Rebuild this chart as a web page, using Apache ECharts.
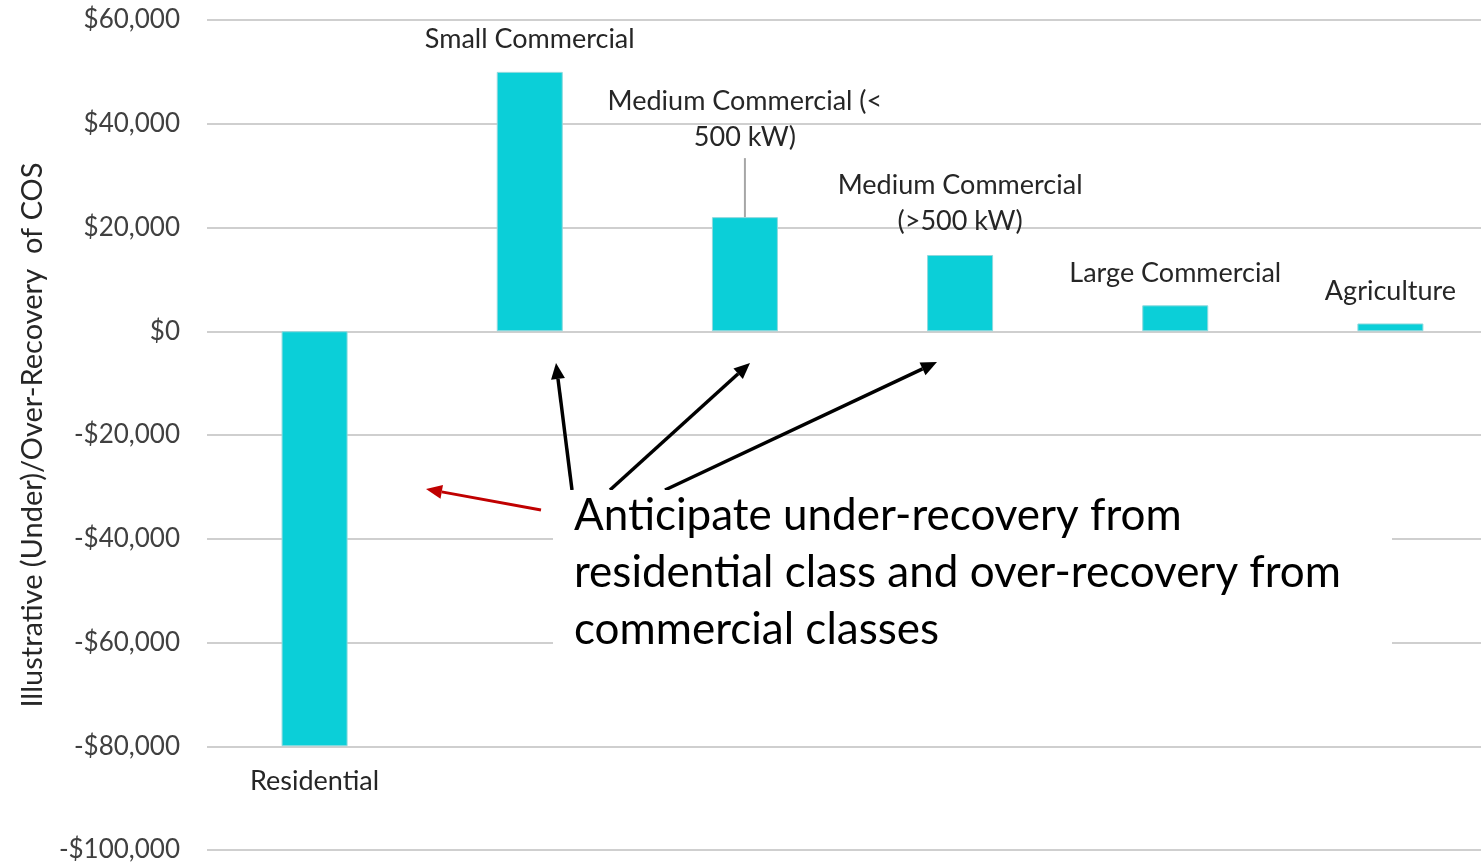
<!DOCTYPE html>
<html>
<head>
<meta charset="utf-8">
<title>Illustrative (Under)/Over-Recovery of COS</title>
<script src="https://cdn.jsdelivr.net/npm/echarts@6/dist/echarts.min.js"></script>
<style>
  html, body { margin: 0; padding: 0; background: #fff; }
  #chart { width: 1481px; height: 864px; }
</style>
</head>
<body>
<div id="chart"></div>
<script>
// rate classes and their illustrative (under)/over-recovery
var classes = ['Residential', 'Small Commercial', 'Medium Commercial (<\n500 kW)',
               'Medium Commercial\n(>500 kW)', 'Large Commercial', 'Agriculture'];
var recovery = [-80000, 50000, 22000, 14700, 5000, 1500];
var yTicks = { min: -100000, max: 60000, step: 20000 };

var FONT = 'Lato';
var chart = echarts.init(document.getElementById('chart'));

// label position for each bar (residential goes under, the rest above)
var labelDist = [17, 15, 62, 16, 14, 14];

var data = recovery.map(function (v, i) {
    return {
        value: v,
        label: {
            show: true,
            position: v < 0 ? 'bottom' : 'top',
            distance: labelDist[i],
            formatter: classes[i],
            fontFamily: FONT,
            fontSize: 27,
            lineHeight: 36,
            color: '#262626'
        }
    };
});

function money(v) {
    var s = Math.abs(v).toString().replace(/\B(?=(\d{3})+(?!\d))/g, ',');
    return (v < 0 ? '-$' : '$') + s;
}

chart.setOption({
    animation: false,
    grid: { left: 207, width: 1291, top: 20, bottom: 14, outerBoundsMode: 'none', containLabel: false },
    xAxis: {
        type: 'category',
        data: classes,
        axisLine: { show: false },
        axisTick: { show: false },
        axisLabel: { show: false }
    },
    yAxis: {
        type: 'value',
        min: yTicks.min,
        max: yTicks.max,
        interval: yTicks.step,
        name: 'Illustrative (Under)/Over-Recovery  of COS',
        nameLocation: 'middle',
        nameGap: 160,
        nameTextStyle: { fontFamily: FONT, fontSize: 29, color: '#262626' },
        axisLabel: {
            formatter: money,
            fontFamily: FONT,
            fontSize: 26,
            color: '#404040',
            margin: 27
        },
        splitLine: { lineStyle: { color: '#cfcfcf', width: 2 } }
    },
    series: [{
        type: 'bar',
        data: data,
        barWidth: 66,
        itemStyle: { color: '#0bcfd8', borderColor: '#8fd9dd', borderWidth: 1 }
    }]
});

// annotation: white text box, arrows and the leader line of the medium (<500 kW) label
function arrow(x1, y1, x2, y2, color, w) {
    var ang = Math.atan2(y2 - y1, x2 - x1);
    var len = 16, half = 7;
    var bx = x2 - len * Math.cos(ang), by = y2 - len * Math.sin(ang);
    var px = -Math.sin(ang) * half, py = Math.cos(ang) * half;
    return {
        type: 'group',
        z: 120,
        children: [
            { type: 'line', shape: { x1: x1, y1: y1, x2: bx, y2: by },
              style: { stroke: color, lineWidth: w } },
            { type: 'polygon', shape: { points: [[x2, y2], [bx + px, by + py], [bx - px, by - py]] },
              style: { fill: color } }
        ]
    };
}

var medPt = chart.convertToPixel({ seriesIndex: 0 }, [2, recovery[2]]);

chart.setOption({
    graphic: [
        { type: 'rect', z: 100, shape: { x: 553, y: 490, width: 839, height: 176 },
          style: { fill: '#ffffff' } },
        { type: 'text', z: 110, left: 574, top: 487,
          style: {
              text: 'Anticipate under-recovery from\nresidential class and over-recovery from\ncommercial classes',
              fontFamily: FONT, fontSize: 44, lineHeight: 57, fill: '#000000'
          } },
        { type: 'line', z: 90, shape: { x1: medPt[0], y1: medPt[1] - 59, x2: medPt[0], y2: medPt[1] },
          style: { stroke: '#a6a6a6', lineWidth: 2 } },
        arrow(572, 490, 556, 363, '#000000', 3.5),
        arrow(610, 490, 750, 363, '#000000', 3.5),
        arrow(665, 490, 937, 362, '#000000', 3.5),
        arrow(541, 510, 426, 489, '#c00000', 3)
    ]
});
</script>
</body>
</html>
